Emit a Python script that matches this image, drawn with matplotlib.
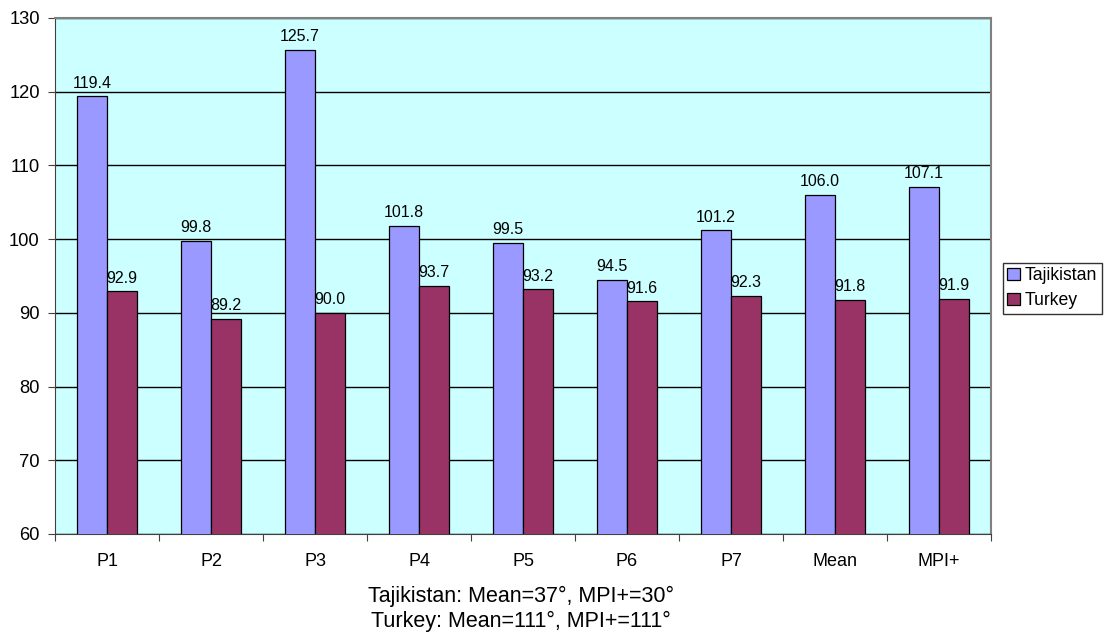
import numpy as np
import matplotlib.pyplot as plt

plt.rcParams['font.family'] = ['Liberation Sans', 'DejaVu Sans']

categories = ['P1', 'P2', 'P3', 'P4', 'P5', 'P6', 'P7', 'Mean', 'MPI+']
tajikistan = [119.4, 99.8, 125.7, 101.8, 99.5, 94.5, 101.2, 106.0, 107.1]
turkey = [92.9, 89.2, 90.0, 93.7, 93.2, 91.6, 92.3, 91.8, 91.9]
footnote = ['Tajikistan: Mean=37°, MPI+=30°', 'Turkey: Mean=111°, MPI+=111°']

fig = plt.figure(figsize=(11.11, 6.35), dpi=100)
ax = fig.add_axes([55 / 1111, 1 - 534 / 635, 936 / 1111, 516 / 635])
ax.set_facecolor('#CCFFFF')

x = np.arange(len(categories))
w = 0.288
b1 = ax.bar(x - w / 2, tajikistan, w, color='#9999FF', edgecolor='black', linewidth=0.9,
            label='Tajikistan', zorder=3)
b2 = ax.bar(x + w / 2, turkey, w, color='#993366', edgecolor='black', linewidth=0.9,
            label='Turkey', zorder=3)

for bars, vals in [(b1, tajikistan), (b2, turkey)]:
    for r, v in zip(bars, vals):
        ax.annotate(f'{v:.1f}', (r.get_x() + r.get_width() / 2, v), xytext=(0, 4),
                    textcoords='offset points', ha='center', va='bottom', fontsize=11.5)

ax.set_ylim(60, 130)
ax.set_yticks(range(60, 131, 10))
ax.yaxis.grid(True, color='black', linewidth=1)
ax.set_axisbelow(True)
ax.set_xlim(-0.5, len(categories) - 0.5)

# category labels sit between boundary ticks
ax.set_xticks(np.arange(-0.5, len(categories)))
ax.set_xticklabels([])
ax.set_xticks(x, minor=True)
ax.set_xticklabels(categories, minor=True, fontsize=13)
ax.tick_params(axis='x', which='minor', length=0, pad=13.5)
ax.tick_params(axis='x', which='major', length=5, direction='out', color='#404040')
ax.tick_params(axis='y', length=5, direction='out', labelsize=13.2, color='#404040', pad=6)

for s in ['top', 'right']:
    ax.spines[s].set_color('#808080')
    ax.spines[s].set_linewidth(1.5)
for s in ['left', 'bottom']:
    ax.spines[s].set_color('#404040')

leg = fig.legend(handles=[b1, b2], loc='upper left', bbox_to_anchor=(1003 / 1111, 1 - 263 / 635),
                 fontsize=12.7, frameon=True, fancybox=False, edgecolor='black',
                 handlelength=0.7, handleheight=0.7, handletextpad=0.3,
                 borderpad=0.25, labelspacing=0.45, borderaxespad=0)
leg.get_frame().set_linewidth(1)

fig.text(521 / 1111, 1 - 602 / 635, footnote[0], ha='center', va='baseline', fontsize=15.5)
fig.text(521 / 1111, 1 - 626.5 / 635, footnote[1], ha='center', va='baseline', fontsize=15.5)

fig.savefig('out.png', dpi=100)
